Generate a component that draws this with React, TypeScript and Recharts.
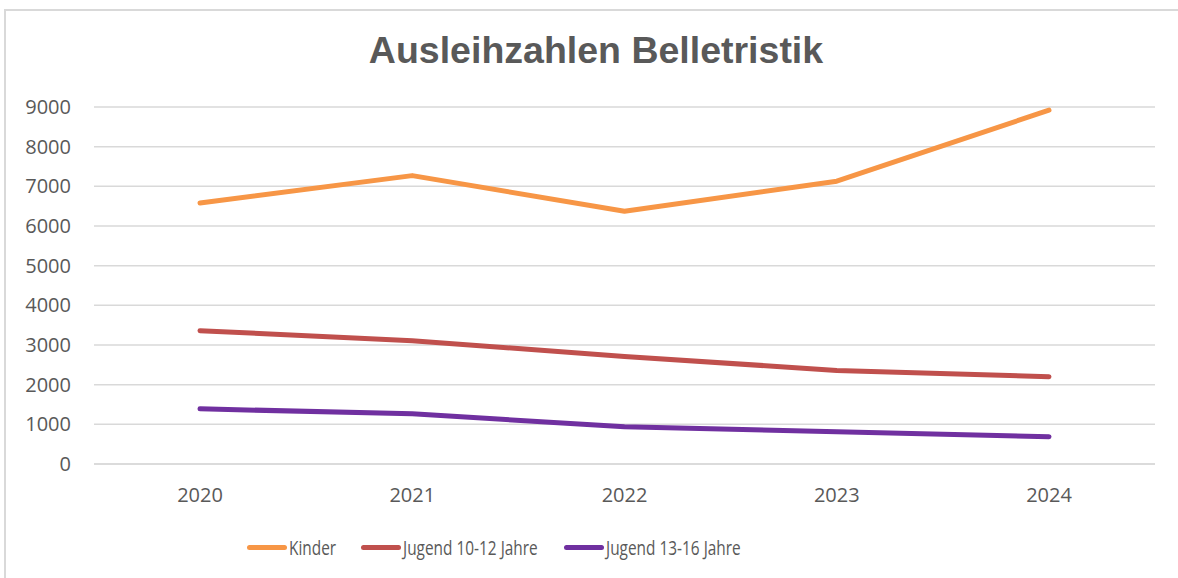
import { LineChart, Line, XAxis, YAxis, CartesianGrid } from "recharts";

const years = ["2020", "2021", "2022", "2023", "2024"];
const kinder = [6580, 7270, 6370, 7130, 8920];
const jugend1012 = [3360, 3110, 2710, 2360, 2200];
const jugend1316 = [1390, 1265, 940, 810, 690];
const yTicks = [0, 1000, 2000, 3000, 4000, 5000, 6000, 7000, 8000, 9000];

const series = [
  { key: "kinder", name: "Kinder", color: "#f79646", x: 247 },
  { key: "j1012", name: "Jugend 10-12 Jahre", color: "#c0504d", x: 361 },
  { key: "j1316", name: "Jugend 13-16 Jahre", color: "#7030a0", x: 564 },
];

const data = years.map((y, i) => ({ year: y, kinder: kinder[i], j1012: jugend1012[i], j1316: jugend1316[i] }));

const GRID = "#d9d9d9";
const TEXT = "#595959";
const tickStyle = { fill: TEXT, fontSize: 20, fontFamily: "'Open Sans', sans-serif" };

export default function App() {
  return (
    <div style={{ position: "absolute", left: 0, top: 0, width: 1178, height: 578, overflow: "hidden", background: "#fff" }}>
      <div style={{ position: "absolute", left: 4, top: 9, width: 1200, height: 600, border: `2px solid ${GRID}` }} />
      <div
        style={{
          position: "absolute", left: 0, top: 29, width: 1192, textAlign: "center",
          fontFamily: "'Liberation Sans', Arial, sans-serif", fontWeight: "bold", fontSize: 37.5, color: TEXT,
        }}
      >
        Ausleihzahlen Belletristik
      </div>
      <div style={{ position: "absolute", left: 0, top: 0 }}>
        <LineChart width={1178} height={578} data={data} margin={{ top: 107, right: 23, left: 0, bottom: 0 }}>
          <CartesianGrid vertical={false} stroke={GRID} strokeWidth={1.5} />
          <XAxis
            dataKey="year"
            height={114}
            padding={{ left: 106, right: 106 }}
            axisLine={{ stroke: GRID, strokeWidth: 1.5 }}
            tickLine={false}
            tickMargin={18}
            tick={tickStyle}
          />
          <YAxis
            width={94}
            domain={[0, 9000]}
            ticks={yTicks}
            axisLine={false}
            tickLine={false}
            tickSize={0}
            tickMargin={23}
            tick={tickStyle}
          />
          {series.map((s) => (
            <Line
              key={s.key}
              dataKey={s.key}
              name={s.name}
              stroke={s.color}
              strokeWidth={5}
              strokeLinecap="round"
              strokeLinejoin="round"
              dot={false}
              activeDot={false}
              isAnimationActive={false}
            />
          ))}
        </LineChart>
      </div>
      {series.map((s) => (
        <div
          key={s.key}
          style={{
            position: "absolute", left: s.x, top: 534, height: 26, display: "flex", alignItems: "center",
            fontFamily: "'Open Sans', sans-serif", fontSize: 20, color: TEXT, whiteSpace: "nowrap",
          }}
        >
          <span style={{ display: "inline-block", width: 40, height: 5, borderRadius: 3, background: s.color, marginRight: 2 }} />
          <span style={{ display: "inline-block", transform: "scaleX(0.77)", transformOrigin: "left center" }}>{s.name}</span>
        </div>
      ))}
    </div>
  );
}
